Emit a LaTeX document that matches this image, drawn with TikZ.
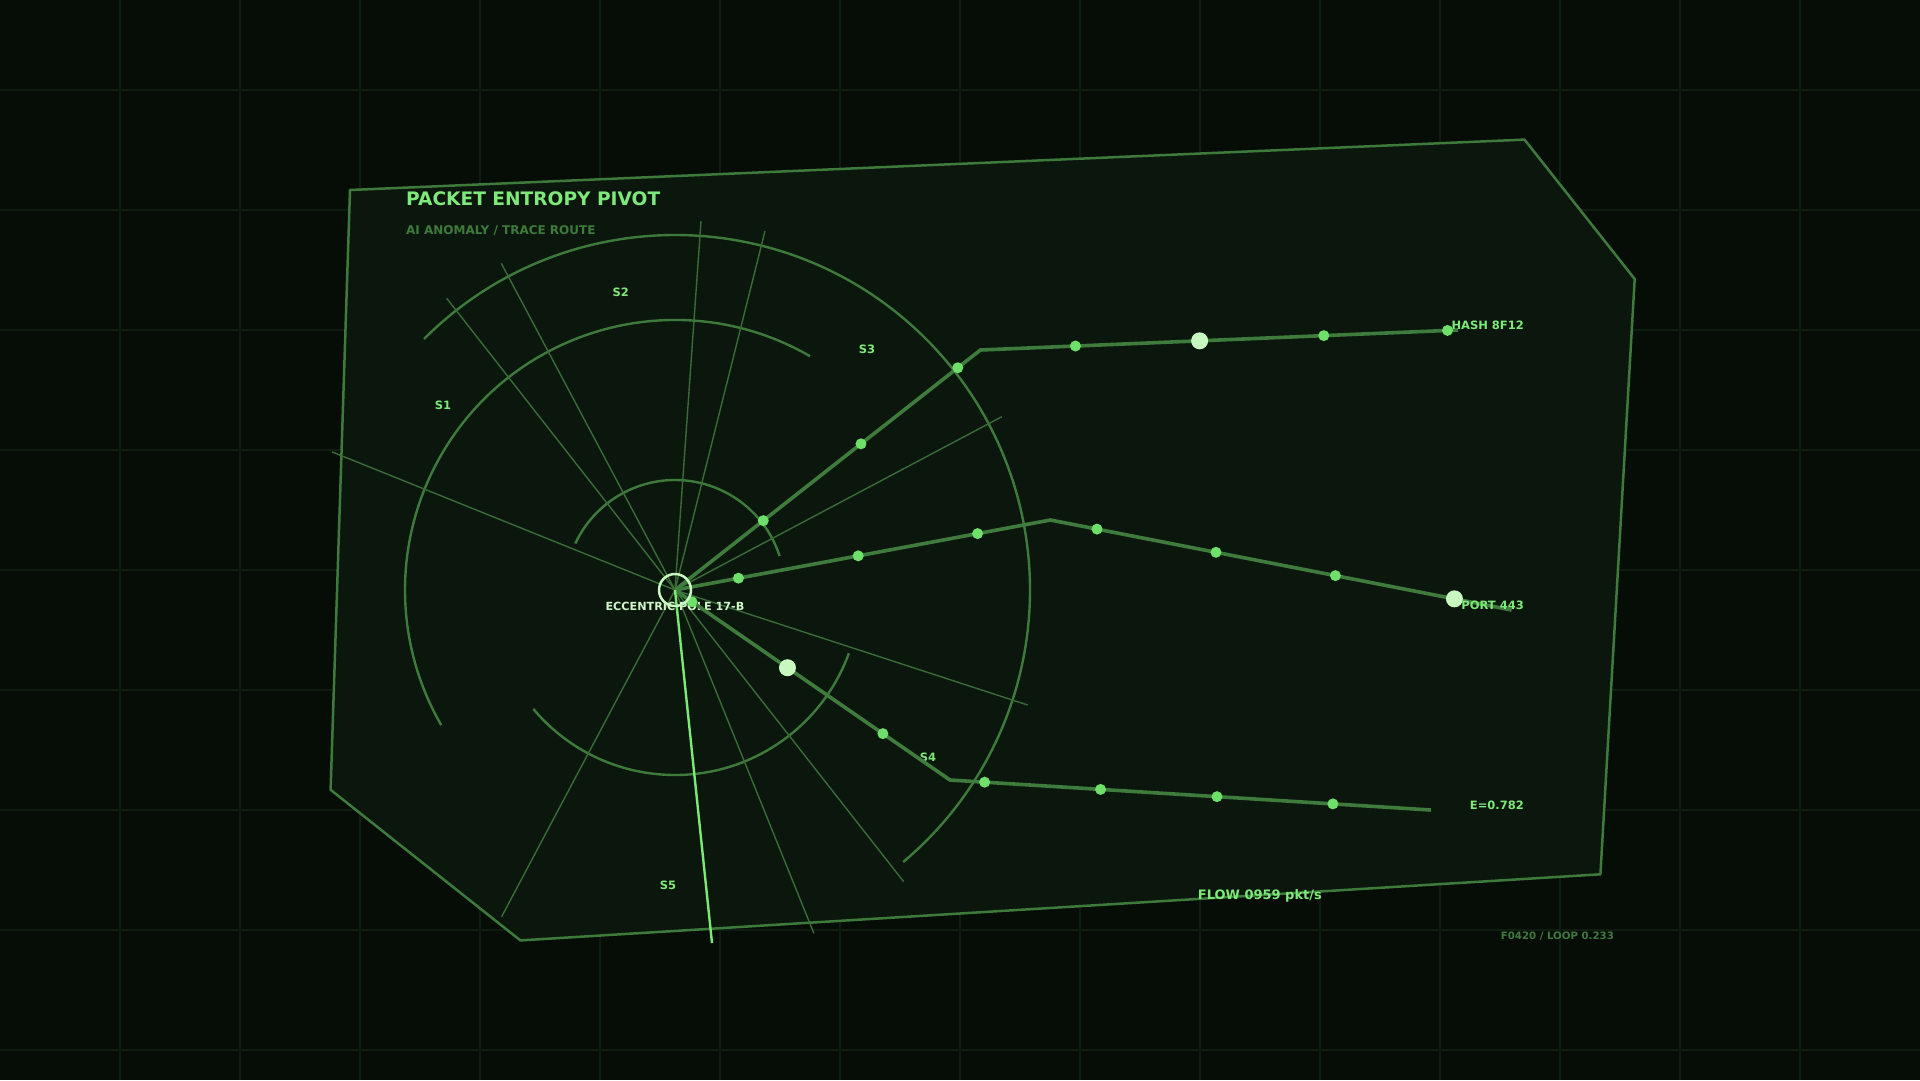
\documentclass[tikz,border=0pt]{standalone}
\usepackage{fontspec}
\setmainfont{DejaVu Sans}
\usetikzlibrary{calc}
\definecolor{bgc}{HTML}{050D06}
\definecolor{gridc}{HTML}{0F1C10}
\definecolor{panelfill}{HTML}{0B170C}
\definecolor{panelstroke}{HTML}{3E7A3C}
\definecolor{thinc}{HTML}{3A6B38}
\definecolor{arcc}{HTML}{3D7A3B}
\definecolor{routec}{HTML}{3F7B3D}
\definecolor{dotc}{HTML}{6EE06A}
\definecolor{bigc}{HTML}{C8F8C0}
\definecolor{brightc}{HTML}{7CE878}
\definecolor{textc}{HTML}{7EE87A}
\definecolor{dimtext}{HTML}{3F7A3D}
\definecolor{poletext}{HTML}{D0F5C8}
\begin{document}
\begin{tikzpicture}[x=1pt,y=-1pt,
  gridline/.style={draw=gridc, line width=1.5pt},
  panel/.style={draw=panelstroke, fill=panelfill, line width=2.5pt, line join=round},
  thinray/.style={draw=thinc, line width=1.4pt},
  ring/.style={draw=arcc, line width=2.4pt},
  route/.style={draw=routec, line width=3.6pt, line join=round},
  dotn/.style={circle, fill=dotc, inner sep=0pt, minimum size=11pt},
  bigdot/.style={circle, fill=bigc, inner sep=0pt, minimum size=17pt},
  lbl/.style={font=\bfseries\fontsize{11.5}{12}\selectfont, text=textc, inner sep=0pt},
  title/.style={font=\bfseries\fontsize{18.6}{20}\selectfont, text=textc, inner sep=0pt},
  subtitle/.style={font=\bfseries\fontsize{12}{13}\selectfont, text=dimtext, inner sep=0pt},
  foot/.style={font=\bfseries\fontsize{10.2}{11}\selectfont, text=dimtext, inner sep=0pt},
  polelbl/.style={font=\bfseries\fontsize{11.2}{12}\selectfont, text=poletext, inner sep=0pt},
]
\fill[bgc] (0,0) rectangle (1920,1080);
\useasboundingbox (0,0) rectangle (1920,1080);
\foreach \x in {120,240,...,1800} \draw[gridline] (\x,0) -- (\x,1080);
\foreach \y in {90,210,...,1050} \draw[gridline] (0,\y) -- (1920,\y);

% panel
\draw[panel] (350,190) -- (1524.5,139.6) -- (1634.7,279) -- (1600.4,874.3) -- (520.4,940.4) -- (330.6,789.8) -- cycle;

% texts
\node[title, anchor=base west] (ttl) at (406,205) {PACKET ENTROPY PIVOT};
\node[subtitle, anchor=base west] (sub) at (406,234.3) {AI ANOMALY / TRACE ROUTE};

\coordinate (P) at (675,590);

% arcs
\draw[ring] (P) ++(-135:355) arc[start angle=-135, end angle=50, radius=355];
\draw[ring] (P) ++(-60:270) arc[start angle=-60, end angle=-210, radius=270];
\draw[ring] (P) ++(-18:110) arc[start angle=-18, end angle=-155, radius=110];
\draw[ring] (P) ++(-220:185) arc[start angle=-220, end angle=-340, radius=185];

% rays
\coordinate (e1) at (331.8,451.8);
\coordinate (e2) at (446.7,298.3);
\coordinate (e3) at (501.3,263.3);
\coordinate (e4) at (701,221);
\coordinate (e5) at (765,231);
\coordinate (e6) at (1001.8,416.7);
\coordinate (e7) at (1027.7,705);
\coordinate (e8) at (903.7,881.7);
\coordinate (e9) at (813.9,933.3);
\coordinate (e10) at (501.6,916.7);
\foreach \e in {e1,e2,e3,e4,e5,e6,e7,e8,e9,e10} \draw[thinray] (P) -- (\e);

% sector labels
\node[lbl] (s1) at (443,405) {S1};
\node[lbl] (s2) at (620.7,292.7) {S2};
\node[lbl] (s3) at (867,349) {S3};
\node[lbl] (s4) at (928,757) {S4};
\node[lbl] (s5) at (668,885) {S5};

\node[polelbl] (plbl) at (675,606) {ECCENTRIC POLE 17-B};

% routes
\coordinate (r1c) at (980.4,350);
\coordinate (r1e) at (1458,330);
\coordinate (r2c) at (1050.4,520);
\coordinate (r2e) at (1511.6,610);
\coordinate (r3c) at (950,780);
\coordinate (r3e) at (1431,810);
\draw[route] (P) -- (r1c) -- (r1e);
\draw[route] (P) -- (r2c) -- (r2e);
\draw[route] (P) -- (r3c) -- (r3e);

% bright needle
\coordinate (needle) at (712,943);
\draw[draw=brightc, line width=2.4pt] (P) -- (needle);

% dots route 1
\node[dotn] (a1) at ($(P)!0.289!(r1c)$) {};
\node[dotn] (a2) at ($(P)!0.609!(r1c)$) {};
\node[dotn] (a3) at ($(P)!0.926!(r1c)$) {};
\node[dotn] (a4) at ($(r1c)!0.199!(r1e)$) {};
\node[bigdot] (a5) at ($(r1c)!0.459!(r1e)$) {};
\node[dotn] (a6) at ($(r1c)!0.719!(r1e)$) {};
\node[dotn] (a7) at ($(r1c)!0.978!(r1e)$) {};
% dots route 2
\node[dotn] (b1) at ($(P)!0.169!(r2c)$) {};
\node[dotn] (b2) at ($(P)!0.488!(r2c)$) {};
\node[dotn] (b3) at ($(P)!0.806!(r2c)$) {};
\node[dotn] (b4) at ($(r2c)!0.101!(r2e)$) {};
\node[dotn] (b5) at ($(r2c)!0.359!(r2e)$) {};
\node[dotn] (b6) at ($(r2c)!0.618!(r2e)$) {};
\node[bigdot] (b7) at ($(r2c)!0.876!(r2e)$) {};
% dots route 3
\node[dotn] (c1) at ($(P)!0.062!(r3c)$) {};
\node[bigdot] (c2) at ($(P)!0.409!(r3c)$) {};
\node[dotn] (c3) at ($(P)!0.756!(r3c)$) {};
\node[dotn] (c4) at ($(r3c)!0.072!(r3e)$) {};
\node[dotn] (c5) at ($(r3c)!0.313!(r3e)$) {};
\node[dotn] (c6) at ($(r3c)!0.555!(r3e)$) {};
\node[dotn] (c7) at ($(r3c)!0.796!(r3e)$) {};

% pole ring
\node[circle, draw=bigc, line width=2.5pt, minimum size=32pt, inner sep=0pt] (pole) at (P) {};

% end labels
\node[lbl, anchor=east] (hash) at (1524,325.5) {HASH 8F12};
\node[lbl, anchor=east] (port) at (1524,605.5) {PORT 443};
\node[lbl, anchor=east] (ent) at (1524,805) {E=0.782};
\node[lbl, anchor=base west, font=\bfseries\fontsize{13}{14}\selectfont] (flow) at (1197.7,899.3) {FLOW 0959 pkt/s};
\node[foot, anchor=base west] (loop) at (1500.7,939.3) {F0420 / LOOP 0.233};
\end{tikzpicture}
\end{document}
